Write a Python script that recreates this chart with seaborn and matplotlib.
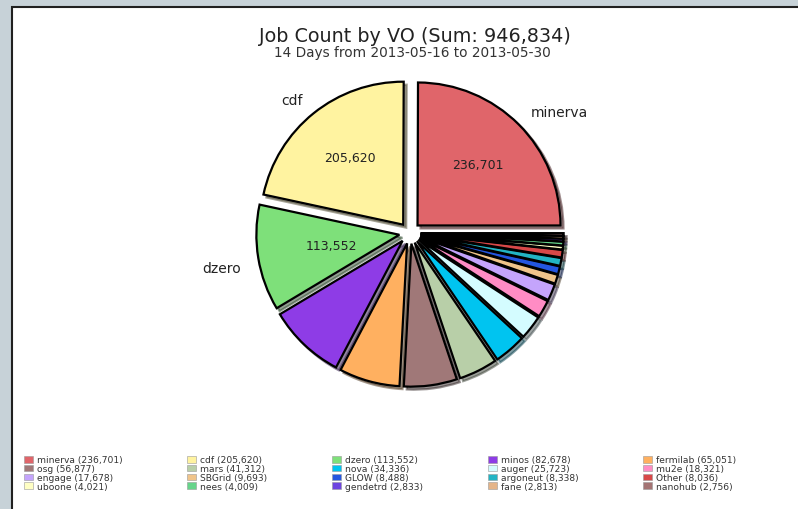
import matplotlib
matplotlib.use("Agg")
import matplotlib.pyplot as plt
import matplotlib.patches as mpatches
import seaborn as sns

# data
vos = ['minerva', 'cdf', 'dzero', 'minos', 'fermilab',
       'osg', 'mars', 'nova', 'auger', 'mu2e',
       'engage', 'SBGrid', 'GLOW', 'argoneut', 'Other',
       'uboone', 'nees', 'gendetrd', 'fane', 'nanohub']
jobs = [236701, 205620, 113552, 82678, 65051,
        56877, 41312, 34336, 25723, 18321,
        17678, 9693, 8488, 8338, 8036,
        4021, 4009, 2833, 2813, 2756]
colors = ['#e0656a', '#fff3a0', '#7ee07a', '#8e3ce6', '#ffb060',
          '#a07878', '#b8cfa8', '#00c4f0', '#d4fcff', '#ff8cc4',
          '#c4a4fc', '#f0c48a', '#2456e0', '#22b4c4', '#d84848',
          '#ffffc4', '#66d48a', '#6e44e0', '#e4b488', '#a47474']
title = 'Job Count by VO (Sum: 946,834)'
subtitle = '14 Days from 2013-05-16 to 2013-05-30'

sns.set_theme(style="white")
plt.rcParams['font.family'] = ['DejaVu Sans']

fig = plt.figure(figsize=(7.98, 5.10), dpi=100)
fig.patch.set_facecolor('#c7d2d8')

# white panel with dark border
panel = mpatches.Rectangle((12 / 798, -0.01), 1.0, 1 - 8 / 510 + 0.01,
                           transform=fig.transFigure, facecolor='white',
                           edgecolor='#202020', linewidth=1.5, zorder=-1)
fig.patches.append(panel)

fig.text(415 / 798, 1 - 36 / 510, title, ha='center', va='center',
         fontsize=13.8, color='#222222')
fig.text(412 / 798, 1 - 53 / 510, subtitle, ha='center', va='center',
         fontsize=9.8, color='#333333')

ax = fig.add_axes([0.2987, 0.2046, 0.430, 0.673])
ax.set_zorder(1)
total = sum(jobs)
labels = [v if j / total > 0.1 else '' for v, j in zip(vos, jobs)]


def show_value(pct):
    val = pct * total / 100.0
    return f'{val:,.0f}' if pct > 10 else ''


wedges, texts, autotexts = ax.pie(
    jobs, labels=labels, colors=colors, startangle=0,
    explode=[0.075] * len(jobs), labeldistance=1.12, pctdistance=0.6,
    autopct=show_value,
    wedgeprops={'edgecolor': 'black', 'linewidth': 1.6},
    shadow={'ox': 0.015, 'oy': -0.015, 'shade': 0.7},
    textprops={'fontsize': 9, 'color': '#222222'})
for t in texts:
    t.set_fontsize(10)
# dzero value sits a bit closer to the centre in the reference
cx, cy = wedges[2].center
x, y = autotexts[2].get_position()
autotexts[2].set_position((cx + (x - cx) * 0.8, cy + (y - cy) * 0.8))
x, y = texts[2].get_position()
texts[2].set_position((x, y - 0.05))

ax.set_xlim(-1.2, 1.2)
ax.set_ylim(-1.2, 1.2)
ax.set_aspect('equal')
ax.axis('off')

# legend: row-major order in 5 columns
ncol = 5
nrow = len(vos) // ncol
order = [r * ncol + c for c in range(ncol) for r in range(nrow)]
handles = [mpatches.Patch(facecolor=colors[i], edgecolor='#999999', linewidth=0.4,
                          label=f'{vos[i]} ({jobs[i]:,})') for i in order]
fig.legend(handles=handles, ncol=ncol, loc='upper left',
           bbox_to_anchor=(24 / 798, 1 - 457 / 510, 712 / 798, 0.001),
           mode='expand', frameon=False, fontsize=6.6,
           handlelength=1.0, handleheight=0.75, handletextpad=0.4,
           labelspacing=-0.02, borderaxespad=0, borderpad=0,
           labelcolor='#333333')

fig.savefig('out.png', dpi=100, facecolor=fig.get_facecolor())
